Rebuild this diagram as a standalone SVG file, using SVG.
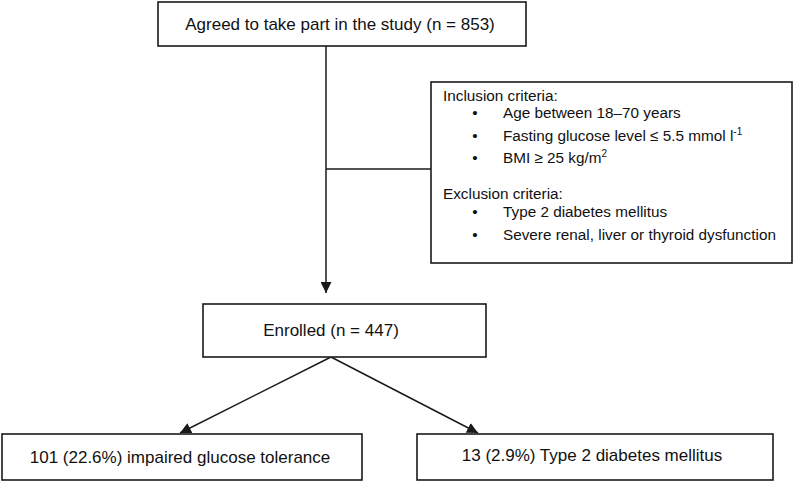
<svg xmlns="http://www.w3.org/2000/svg" width="797" height="482" viewBox="0 0 797 482">
<style>
.box{fill:#fff;stroke:#1a1a1a;stroke-width:1.6}
.t{font-family:"Liberation Sans",Arial,sans-serif;font-size:17px;fill:#111}
.s{font-family:"Liberation Sans",Arial,sans-serif;font-size:15.3px;fill:#111}
.ln{fill:none;stroke:#1a1a1a;stroke-width:1.5}
</style>
<defs>
<marker id="ah" viewBox="0 0 10 10" refX="10" refY="5" markerWidth="11" markerHeight="11" markerUnits="userSpaceOnUse" orient="auto">
<path d="M0,0 L10,5 L0,10 z" fill="#1a1a1a"/>
</marker>
</defs>
<rect width="797" height="482" fill="#fff"/>
<g id="connectors">
<line class="ln" x1="326" y1="46" x2="326" y2="293" marker-end="url(#ah)"/>
<line class="ln" x1="326" y1="169" x2="431" y2="169"/>
<line class="ln" x1="331" y1="357" x2="180" y2="433" marker-end="url(#ah)"/>
<line class="ln" x1="331" y1="357" x2="478" y2="433" marker-end="url(#ah)"/>
</g>
<g id="agreed">
<rect class="box" x="158" y="2" width="368" height="44"/>
<text class="t" x="340" y="30" text-anchor="middle">Agreed to take part in the study (n = 853)</text>
</g>
<g id="criteria">
<rect class="box" x="431" y="82" width="361" height="181"/>
<text class="s" x="443" y="101">Inclusion criteria:</text>
<text class="s" x="475" y="118" text-anchor="middle">•</text>
<text class="s" x="503" y="118">Age between 18–70 years</text>
<text class="s" x="475" y="141" text-anchor="middle">•</text>
<text class="s" x="503" y="141">Fasting glucose level ≤ 5.5 mmol l<tspan font-size="10" dy="-6">-1</tspan></text>
<text class="s" x="475" y="163" text-anchor="middle">•</text>
<text class="s" x="503" y="163">BMI ≥ 25 kg/m<tspan font-size="10" dy="-6">2</tspan></text>
<text class="s" x="443" y="199">Exclusion criteria:</text>
<text class="s" x="475" y="217" text-anchor="middle">•</text>
<text class="s" x="503" y="217">Type 2 diabetes mellitus</text>
<text class="s" x="475" y="240" text-anchor="middle">•</text>
<text class="s" x="503" y="240">Severe renal, liver or thyroid dysfunction</text>
</g>
<g id="enrolled">
<rect class="box" x="203" y="304" width="283" height="53"/>
<text class="t" x="331" y="336" text-anchor="middle">Enrolled (n = 447)</text>
</g>
<g id="igt">
<rect class="box" x="2" y="434" width="360" height="46"/>
<text class="t" x="180" y="463" text-anchor="middle">101 (22.6%) impaired glucose tolerance</text>
</g>
<g id="t2dm">
<rect class="box" x="417" y="434" width="356" height="46"/>
<text class="t" x="592" y="461" text-anchor="middle">13 (2.9%) Type 2 diabetes mellitus</text>
</g>
</svg>
